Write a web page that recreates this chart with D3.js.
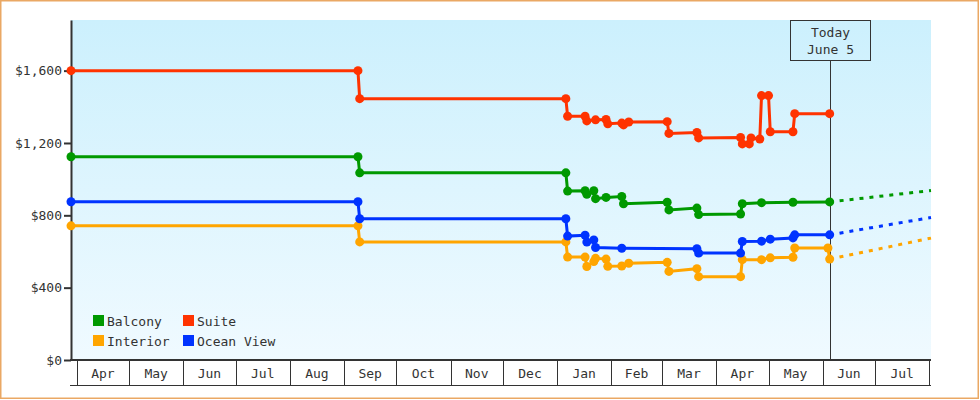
<!DOCTYPE html>
<html>
<head>
<meta charset="utf-8">
<script src="https://cdn.jsdelivr.net/npm/d3@7"></script>
<style>
  body { margin: 0; background: #fff; }
  svg { display: block; }
  text { font-family: "DejaVu Sans Mono", monospace; font-size: 13px; fill: #333; }
</style>
</head>
<body>
<div id="chart"></div>
<script>
// price history, [date, price] at each observed change
var balcony = [
  ["2023-03-28T18:00", 1124], ["2023-09-09", 1124], ["2023-09-10", 1035],
  ["2024-01-06", 1035], ["2024-01-07", 934], ["2024-01-17", 936], ["2024-01-18", 916],
  ["2024-01-22", 936], ["2024-01-23", 892], ["2024-01-29", 899], ["2024-02-07", 904],
  ["2024-02-08", 864], ["2024-03-04", 872], ["2024-03-05", 830], ["2024-03-21", 840],
  ["2024-03-22", 804], ["2024-04-15", 807], ["2024-04-16", 864], ["2024-04-27", 870],
  ["2024-05-15", 872], ["2024-06-05", 874]
];
var suite = [
  ["2023-03-28T18:00", 1600], ["2023-09-09", 1600], ["2023-09-10", 1445],
  ["2024-01-06", 1445], ["2024-01-07", 1348], ["2024-01-17", 1348], ["2024-01-18", 1322],
  ["2024-01-23", 1328], ["2024-01-29", 1330], ["2024-01-30", 1306], ["2024-02-07", 1310],
  ["2024-02-08", 1300], ["2024-02-11", 1316], ["2024-03-04", 1318], ["2024-03-05", 1253],
  ["2024-03-21", 1258], ["2024-03-22", 1228], ["2024-04-15", 1230], ["2024-04-16", 1195],
  ["2024-04-20", 1195], ["2024-04-21", 1228], ["2024-04-26", 1222], ["2024-04-27", 1462],
  ["2024-05-01", 1462], ["2024-05-02", 1262], ["2024-05-15", 1262], ["2024-05-16", 1362],
  ["2024-06-05", 1362]
];
var interior = [
  ["2023-03-28T18:00", 742], ["2023-09-09", 742], ["2023-09-10", 653],
  ["2024-01-06", 653], ["2024-01-07", 569], ["2024-01-17", 569], ["2024-01-18", 517],
  ["2024-01-22", 544], ["2024-01-23", 562], ["2024-01-29", 558], ["2024-01-30", 518],
  ["2024-02-07", 520], ["2024-02-11", 535], ["2024-03-04", 540], ["2024-03-05", 490],
  ["2024-03-21", 505], ["2024-03-22", 461], ["2024-04-15", 461], ["2024-04-16", 555],
  ["2024-04-27", 555], ["2024-05-02", 565], ["2024-05-15", 568], ["2024-05-16", 619],
  ["2024-06-04", 619], ["2024-06-05", 558]
];
var oceanView = [
  ["2023-03-28T18:00", 875], ["2023-09-09", 875], ["2023-09-10", 781],
  ["2024-01-06", 781], ["2024-01-07", 685], ["2024-01-17", 690], ["2024-01-18", 652],
  ["2024-01-22", 664], ["2024-01-23", 622], ["2024-02-07", 618], ["2024-03-21", 615],
  ["2024-03-22", 591], ["2024-04-15", 591], ["2024-04-16", 655], ["2024-04-27", 657],
  ["2024-05-02", 668], ["2024-05-15", 675], ["2024-05-16", 692], ["2024-06-05", 692]
];

// forecast from today to the end of the chart
var balconyForecast   = [["2024-06-05", 874], ["2024-08-02", 937]];
var interiorForecast  = [["2024-06-05", 558], ["2024-08-02", 674]];
var oceanViewForecast = [["2024-06-05", 692], ["2024-08-02", 788]];

var seriesNames  = ["Balcony", "Suite", "Interior", "Ocean View"];
var yTicks       = [0, 400, 800, 1200, 1600];
var dateRange    = ["2023-03-28T18:00", "2024-08-02T00:00"];
var today        = "2024-06-05";
var todayLabel   = ["Today", "June 5"];

var colors = {
  "Balcony": "#009900", "Suite": "#ff3300", "Interior": "#ffa500", "Ocean View": "#0033ff"
};

var W = 980, H = 400,
    plotLeft = 71, plotRight = 931, plotTop = 20, plotBottom = 360;

var parse = function(s) { return new Date(s.length > 10 ? s : s + "T00:00"); };

var x = d3.scaleTime().domain(dateRange.map(parse)).range([plotLeft, plotRight]),
    y = d3.scaleLinear().domain([0, 1880]).range([plotBottom, plotTop]);

var svg = d3.select("#chart").append("svg")
    .attr("width", W)
    .attr("height", H);

var defs = svg.append("defs");
var grad = defs.append("linearGradient")
    .attr("id", "bg")
    .attr("x1", 0).attr("y1", 0).attr("x2", 0).attr("y2", 1);
grad.append("stop").attr("offset", "0%").attr("stop-color", "#ccf0fd");
grad.append("stop").attr("offset", "100%").attr("stop-color", "#f0faff");

/* plot background */
svg.append("rect")
    .attr("x", plotLeft).attr("y", plotTop)
    .attr("width", plotRight - plotLeft).attr("height", plotBottom - plotTop)
    .style("fill", "url(#bg)");

/* outer frame */
svg.append("rect")
    .attr("x", 0.75).attr("y", 0.75)
    .attr("width", W - 2.5).attr("height", H - 2.5)
    .style("fill", "none")
    .style("stroke", "#eaa864")
    .style("stroke-width", 1.5);

/* month boxes under the plot */
var months = x.ticks(d3.timeMonth.every(1));
var monthG = svg.append("g").attr("class", "months");

monthG.selectAll("line.mtick")
  .data(months)
  .enter().append("line")
    .attr("class", "mtick")
    .attr("x1", function(d) { return Math.round(x(d)) + 0.5; })
    .attr("x2", function(d) { return Math.round(x(d)) + 0.5; })
    .attr("y1", plotBottom)
    .attr("y2", 385)
    .style("stroke", "#333")
    .style("stroke-width", 1);

monthG.append("line")
    .attr("x1", plotLeft - 1).attr("x2", plotRight)
    .attr("y1", 385.5).attr("y2", 385.5)
    .style("stroke", "#333")
    .style("stroke-width", 1);

monthG.selectAll("text")
  .data(months.slice(0, -1))
  .enter().append("text")
    .attr("x", function(d, i) { return (x(d) + x(months[i + 1])) / 2; })
    .attr("y", 378)
    .attr("text-anchor", "middle")
    .text(d3.timeFormat("%b"));

/* y axis */
var yAxis = d3.axisLeft(y)
    .tickValues(yTicks)
    .tickSize(7)
    .tickSizeOuter(0)
    .tickPadding(2)
    .tickFormat(function(d) { return "$" + d3.format(",")(d); });

var yg = svg.append("g")
    .attr("transform", "translate(" + plotLeft + ",0)")
    .call(yAxis);
yg.selectAll("text").style("font-size", "13px").style("font-family", "'DejaVu Sans Mono', monospace").style("fill", "#333");
yg.selectAll("line").style("stroke", "#333").style("stroke-width", 2);
yg.select(".domain").style("stroke", "#333").style("stroke-width", 2);

/* x axis baseline */
svg.append("line")
    .attr("x1", plotLeft - 1).attr("x2", plotRight)
    .attr("y1", plotBottom).attr("y2", plotBottom)
    .style("stroke", "#333")
    .style("stroke-width", 2);

/* today marker */
var tx = Math.round(x(parse(today))) + 0.5;
svg.append("line")
    .attr("x1", tx).attr("x2", tx)
    .attr("y1", 61).attr("y2", plotBottom)
    .style("stroke", "#333")
    .style("stroke-width", 1);
svg.append("rect")
    .attr("x", tx - 40).attr("y", 20.5)
    .attr("width", 80).attr("height", 40)
    .style("fill", "none")
    .style("stroke", "#333")
    .style("stroke-width", 1);
svg.selectAll(".todaylabel")
  .data(todayLabel)
  .enter().append("text")
    .attr("class", "todaylabel")
    .attr("x", tx)
    .attr("y", function(d, i) { return 37 + i * 17; })
    .attr("text-anchor", "middle")
    .text(function(d) { return d; });

/* series */
var line = d3.line()
    .x(function(d) { return x(parse(d[0])); })
    .y(function(d) { return y(d[1]); });

var series = [
  { name: "Balcony", data: balcony, forecast: balconyForecast },
  { name: "Suite", data: suite, forecast: null },
  { name: "Interior", data: interior, forecast: interiorForecast },
  { name: "Ocean View", data: oceanView, forecast: oceanViewForecast }
];

series.forEach(function(s) {
  if (s.forecast) {
    svg.append("path")
        .datum(s.forecast)
        .attr("d", line)
        .style("fill", "none")
        .style("stroke", colors[s.name])
        .style("stroke-width", 3)
        .style("stroke-dasharray", "4,6");
  }
});

series.forEach(function(s) {
  var g = svg.append("g").attr("class", "series");
  g.append("path")
      .datum(s.data)
      .attr("d", line)
      .style("fill", "none")
      .style("stroke", colors[s.name])
      .style("stroke-width", 3);
  g.selectAll("circle")
    .data(s.data)
    .enter().append("circle")
      .attr("cx", function(d) { return x(parse(d[0])); })
      .attr("cy", function(d) { return y(d[1]); })
      .attr("r", 4.5)
      .style("fill", colors[s.name]);
});

/* legend */
var legend = svg.append("g").attr("transform", "translate(93,315)");
var items = legend.selectAll("g")
    .data(seriesNames)
  .enter().append("g")
    .attr("transform", function(d, i) {
      return "translate(" + ((i % 2) * 90) + "," + (Math.floor(i / 2) * 20) + ")";
    });
items.append("rect")
    .attr("width", 11).attr("height", 11)
    .style("fill", function(d) { return colors[d]; });
items.append("text")
    .attr("x", 14)
    .attr("y", 10.5)
    .text(function(d) { return d; });
</script>
</body>
</html>
